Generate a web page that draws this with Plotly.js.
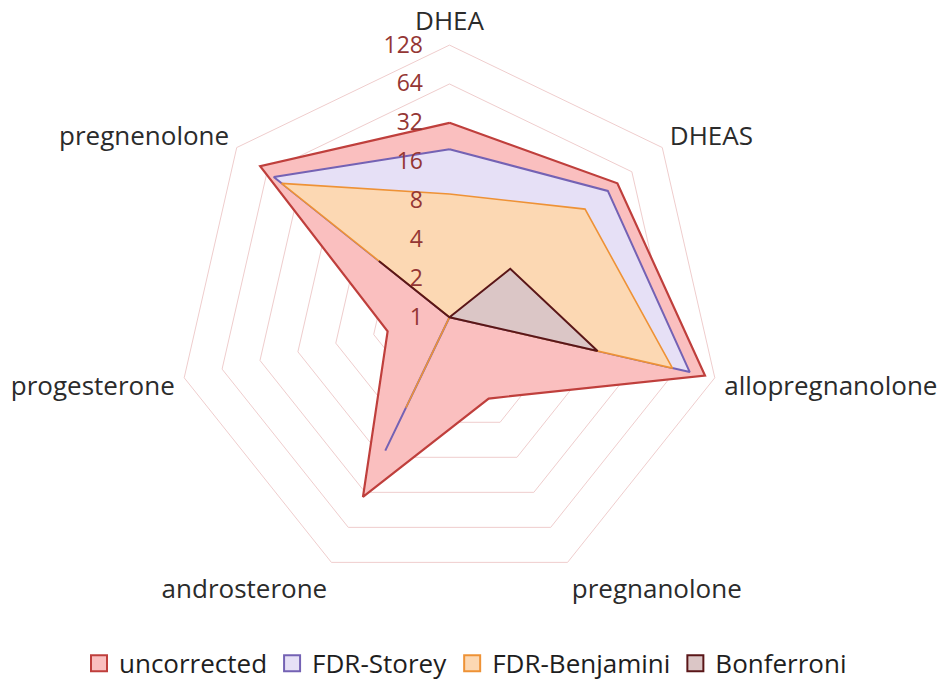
<!DOCTYPE html>
<html>
<head>
<meta charset="utf-8">
<script src="https://cdn.plot.ly/plotly-3.0.1.min.js"></script>
<style>
  html, body { margin: 0; padding: 0; background: #ffffff; }
  #chart { width: 950px; height: 687px; }
</style>
</head>
<body>
<div id="chart"></div>
<script>
// steroid axes, clockwise from the top
var steroids = ['DHEA', 'DHEAS', 'allopregnanolone', 'pregnanolone',
  'androsterone', 'progesterone', 'pregnenolone'];

var uncorrected = [32, 46, 107, 5, 35, 3.1, 75];
var fdrStorey = [20, 37, 81, 1, 14, 1, 55];
var fdrBenjamini = [9, 22, 59, 1, 6, 1, 46];
var bonferroni = [1, 4, 15, 1, 1, 1, 5];

var ringTicks = [1, 2, 4, 8, 16, 32, 64, 128];

var seriesNames = ['uncorrected', 'FDR-Storey', 'FDR-Benjamini', 'Bonferroni'];
var lineColors = ['#bf3f3c', '#7462b4', '#ee9236', '#5a1618'];
var fillColors = ['#fabfbf', '#e6e0f6', '#fcd8b3', '#dbc6c6'];
var lineWidths = [2.2, 2, 1.6, 2];

var font = '"Open Sans", Lato, sans-serif';

function close_loop(values) {
  return values.concat([values[0]]);
}

function make_area(i, values) {
  return {
    type: 'scatterpolar',
    name: seriesNames[i],
    r: close_loop(values),
    theta: close_loop(steroids),
    mode: 'lines',
    fill: 'toself',
    fillcolor: fillColors[i],
    line: { color: lineColors[i], width: lineWidths[i] },
    showlegend: false,
    hoverinfo: 'skip'
  };
}

// legend-only entries so the key shows square swatches
function make_key(i) {
  return {
    type: 'scatterpolar',
    name: seriesNames[i],
    r: [null],
    theta: [steroids[0]],
    mode: 'markers',
    marker: {
      symbol: 'square',
      size: 16,
      color: fillColors[i],
      line: { color: lineColors[i], width: 2 }
    },
    hoverinfo: 'skip'
  };
}

var traces = [
  make_area(0, uncorrected),
  make_area(1, fdrStorey),
  make_area(2, fdrBenjamini),
  make_area(3, bonferroni)
];
seriesNames.forEach(function (name, i) {
  traces.push(make_key(i));
});

var layout = {
  width: 950,
  height: 687,
  margin: { l: 0, r: 0, t: 0, b: 0 },
  paper_bgcolor: '#ffffff',
  font: { family: font, color: '#2b2b2b', size: 24 },
  showlegend: true,
  legend: {
    orientation: 'h',
    x: 0.49,
    xanchor: 'center',
    y: 0.026,
    yanchor: 'middle',
    font: { family: font, size: 26, color: '#1e1e1e' },
    itemwidth: 30,
    tracegroupgap: 0
  },
  polar: {
    domain: { x: [0.1842, 0.7621], y: [0.1346, 0.9338] },
    gridshape: 'linear',
    bgcolor: 'rgba(0,0,0,0)',
    angularaxis: {
      type: 'category',
      categoryarray: steroids,
      direction: 'clockwise',
      rotation: 90,
      showgrid: false,
      showline: true,
      linecolor: '#efcdcd',
      linewidth: 1,
      ticks: 'outside',
      ticklen: 4,
      tickcolor: 'rgba(0,0,0,0)',
      tickfont: { family: font, size: 26, color: '#2b2b2b' }
    },
    radialaxis: {
      type: 'log',
      range: [0, Math.log10(128)],
      tickvals: ringTicks,
      ticktext: ringTicks.map(String),
      angle: 90,
      tickangle: 90,
      side: 'counterclockwise',
      showline: false,
      showgrid: true,
      gridcolor: '#efcdcd',
      gridwidth: 1,
      ticks: 'outside',
      ticklen: 18,
      tickcolor: 'rgba(0,0,0,0)',
      tickfont: { family: font, size: 23, color: '#943634' }
    }
  }
};

var config = { displayModeBar: false, staticPlot: true };

Plotly.newPlot('chart', traces, layout, config);
</script>
</body>
</html>
